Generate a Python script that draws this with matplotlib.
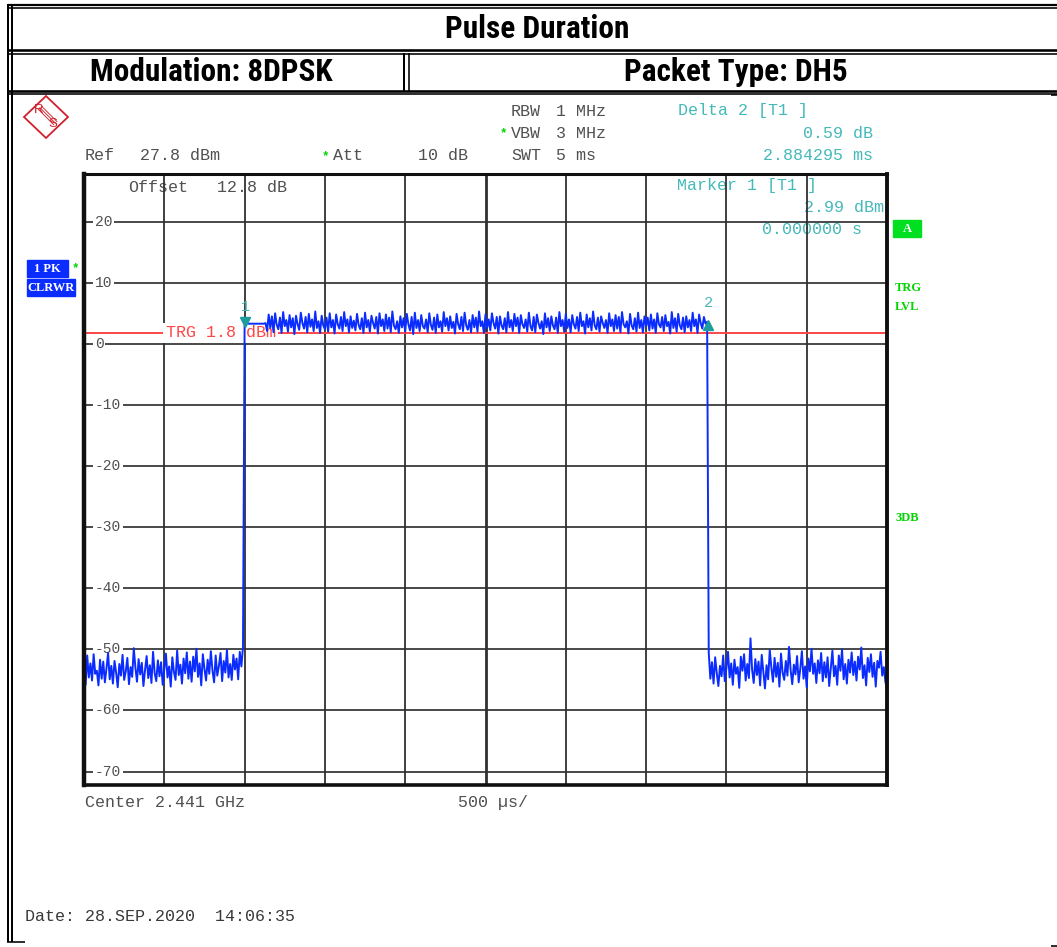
"""Pulse duration screenshot of an R&S spectrum analyzer (zero span, 8DPSK DH5)."""
import numpy as np
import matplotlib
matplotlib.use("Agg")
import matplotlib.pyplot as plt
from matplotlib import font_manager
from matplotlib.lines import Line2D
from matplotlib.patches import Rectangle, Polygon
from matplotlib.transforms import offset_copy

W, H = 1057, 947
MONO = "Liberation Mono"
GREY = "#505050"
CYAN = "#45b9b9"
GREEN = "#00d400"
BLUE = "#0a2cff"
RED = "#ff4646"
TEAL = "#1c9c9c"

# pick a narrow bold face for the report header if one is installed
_names = {f.name for f in font_manager.fontManager.ttflist}
HEAD, HEAD_SIZE = "Liberation Sans", 19
for _cand in ("Liberation Sans Narrow", "Roboto Condensed", "Open Sans Condensed",
              "Noto Sans Condensed", "DejaVu Sans Condensed"):
    if _cand in _names:
        HEAD, HEAD_SIZE = _cand, 22 if "Narrow" in _cand else 22.5
        break

# ---- sweep settings ----
ref_level = 27.8          # dBm, top of screen
span_db = 100.0
sweep_ms = 5.0
t_step = 0.01             # ms between sweep points
level_ticks = [20, 10, 0, -10, -20, -30, -40, -50, -60, -70]
time_grid = [0.5, 1.0, 1.5, 2.0, 2.5, 3.0, 3.5, 4.0, 4.5]
trg_level = 1.8
marker_t = [1.0, 1.0 + 2.884295]   # ms
marker_lvl = [2.99, 2.99 + 0.59]   # dBm

# ---- trace (dBm) ----
noise_pre = [
    -53.2, -55.8, -51.0, -54.6, -52.3, -55.1, -50.8, -54.0, -53.5, -55.9,
    -51.7, -54.8, -52.0, -55.4, -53.1, -50.6, -54.9, -52.7, -55.6, -51.9,
    -53.8, -56.2, -52.4, -54.3, -50.9, -55.0, -53.6, -51.4, -55.7, -52.9,
    -54.5, -49.8, -53.0, -55.3, -51.6, -54.1, -52.2, -56.0, -53.4, -51.1,
    -54.7, -52.6, -55.5, -50.4, -53.9, -55.2, -51.8, -54.4, -52.1, -55.8,
    -53.3, -50.7, -54.6, -52.8, -56.1, -51.3, -53.7, -55.0, -50.2, -54.2,
    -52.5, -55.6, -51.5, -53.9, -50.5, -54.8, -52.0, -55.3, -51.2, -53.6,
    -49.9, -54.5, -52.3, -55.9, -50.8, -53.2, -55.1, -51.7, -54.0, -50.3,
    -53.5, -55.4, -51.0, -54.3, -52.7, -50.6, -55.2, -51.9, -53.8, -50.1,
    -54.6, -52.4, -55.0, -50.9, -53.3, -51.5, -54.9, -50.4, -52.8, -49.6,
]
pulse = [
    3.0, 3.3, 3.3, 3.3, 3.3, 3.3, 3.3, 3.3, 3.3, 3.3, 3.3, 3.3, 3.3, 3.4, 2.1, 4.8, 2.6,
    4.5, 1.9, 5.0, 3.1, 2.4, 4.3, 1.8, 5.2, 2.9, 3.9, 2.0, 4.7, 2.7, 4.2, 1.6, 4.6, 3.2,
    2.3, 5.1, 3.4, 2.5, 4.4, 1.9, 4.9, 2.8, 4.0, 2.1, 5.3, 2.6, 3.7, 1.8, 4.6, 3.0, 2.4,
    4.3, 2.0, 5.0, 2.7, 3.9, 1.7, 4.8, 3.2, 2.5, 4.4, 2.1, 5.2, 2.9, 4.0, 1.9, 4.5, 2.6,
    3.8, 2.2, 4.9, 3.1, 2.4, 4.2, 1.8, 5.1, 2.7, 3.9, 2.0, 4.6, 3.4, 2.5, 4.4, 1.7, 5.0,
    2.9, 4.0, 2.1, 4.8, 2.5, 4.3, 1.9, 5.3, 3.0, 2.4, 3.7, 1.8, 4.5, 2.7, 4.2, 2.0, 4.9,
    3.2, 2.2, 4.4, 1.6, 5.1, 2.6, 3.9, 2.1, 4.7, 2.9, 2.5, 4.0, 1.9, 5.0, 3.1, 2.3, 4.3,
    1.8, 4.8, 2.7, 3.7, 2.0, 5.2, 2.9, 4.2, 2.2, 4.5, 2.6, 3.6, 1.7, 4.9, 3.2, 2.4, 4.4,
    2.1, 5.1, 3.0, 2.3, 3.9, 1.9, 4.7, 2.7, 4.3, 2.0, 5.3, 2.9, 3.7, 1.8, 4.8, 2.6, 4.0,
    2.2, 5.0, 3.4, 2.5, 4.4, 1.7, 4.5, 3.0, 2.4, 4.2, 1.9, 5.2, 2.7, 3.9, 2.1, 4.9, 2.9,
    4.3, 1.8, 4.7, 3.2, 2.6, 4.0, 2.0, 5.1, 2.9, 2.2, 4.4, 1.9, 4.8, 3.4, 2.5, 3.7, 1.6,
    5.0, 2.7, 4.2, 2.1, 4.5, 3.0, 2.4, 4.3, 1.8, 5.2, 2.9, 3.9, 2.0, 4.9, 2.6, 4.0, 1.9,
    4.7, 3.2, 2.5, 4.4, 2.1, 5.1, 2.9, 3.7, 1.7, 4.8, 2.7, 4.2, 2.2, 5.3, 3.0, 2.4, 4.3,
    2.0, 4.5, 3.4, 2.6, 3.9, 1.8, 5.0, 2.9, 4.0, 2.1, 4.7, 2.5, 4.4, 1.9, 5.2, 3.2, 2.7,
    3.7, 1.7, 4.9, 3.0, 2.4, 4.2, 2.0, 5.1, 2.6, 3.9, 1.9, 4.5, 2.9, 4.3, 2.2, 4.8, 2.5,
    4.0, 1.8, 5.0, 3.2, 2.7, 4.4, 2.1, 4.7, 2.9, 3.6, 1.7, 5.2, 2.6, 4.2, 2.0, 4.9, 3.0,
    2.4, 4.3, 1.9, 4.5, 2.7, 3.9, 2.1, 5.1, 2.9, 4.0, 1.8, 4.8, 3.4, 2.5, 4.4, 3.3, 3.6,
]
noise_post = [
    -50.5, -54.8, -52.1, -55.6, -51.3, -53.9, -56.0, -52.7, -54.4, -51.0, -55.2, -53.1, -50.4, -54.6, -52.3, -55.8,
    -51.7, -54.0, -52.9, -56.3, -51.2, -53.5, -50.8, -55.1, -52.4, -54.7, -48.2, -53.3, -55.5, -51.6, -54.2, -52.0,
    -55.9, -50.9, -53.7, -56.4, -52.6, -54.9, -50.1, -53.0, -55.3, -51.4, -54.5, -52.2, -56.1, -50.7, -53.8, -55.0,
    -51.9, -54.3, -49.6, -53.4, -55.7, -52.5, -54.1, -51.1, -55.4, -53.2, -50.3, -54.8, -52.8, -56.2, -51.5, -53.6,
    -49.9, -54.0, -52.3, -55.5, -51.8, -53.9, -50.6, -55.2, -52.1, -54.6, -51.3, -56.0, -53.1, -50.2, -54.4, -52.7,
    -55.8, -51.0, -53.5, -50.0, -54.9, -52.4, -55.6, -51.7, -53.8, -50.5, -54.2, -52.0, -55.1, -51.2, -53.3, -49.7,
    -54.7, -52.6, -55.9, -51.4, -53.7, -50.8, -54.5, -52.2, -56.1, -51.9, -53.0, -50.4, -54.3, -52.9, -55.3, -56.5,
]


def fx(x):
    return x / W


def fy(y):
    return 1 - y / H


def fline(fig, xs, ys, lw, color="black"):
    fig.add_artist(Line2D([fx(x) for x in xs], [fy(y) for y in ys],
                          transform=fig.transFigure, color=color, lw=lw * 0.72,
                          solid_capstyle="butt"))


def ftext(fig, x, y, s, color=GREY, size=12, ha="left", family=MONO, **kw):
    return fig.text(fx(x), fy(y), s, color=color, fontsize=size, ha=ha,
                    va="center", family=family, **kw)


fig = plt.figure(figsize=(W / 100, H / 100), dpi=100)
fig.patch.set_facecolor("white")

# ---- report frame ----
for y, lw in [(5, 2.2), (8.3, 1.6), (50.5, 2.6), (53.6, 1.6), (90.8, 2.6), (93.6, 1.6)]:
    fline(fig, [8, W], [y, y], lw)
fline(fig, [1051, W], [94.8, 94.8], 1.6)
fline(fig, [8, 8], [4, 942], 2.0)
fline(fig, [12, 12], [4, 942], 2.0)
fline(fig, [7, 25], [941.5, 941.5], 1.6)
fline(fig, [1051, W], [945.5, 945.5], 1.6)
fline(fig, [404, 404], [53, 91], 2.0)
fline(fig, [408.5, 408.5], [53, 91], 1.6)

for x, y, s in [(537, 29, "Pulse Duration"), (211, 72, "Modulation: 8DPSK"),
                (736, 72, "Packet Type: DH5")]:
    fig.text(fx(x), fy(y), s, family=HEAD, weight="bold", fontsize=HEAD_SIZE,
             ha="center", va="center")

# ---- R&S logo ----
cx, cy = 46, 117
fig.add_artist(Polygon([(fx(cx), fy(cy - 21)), (fx(cx + 22), fy(cy)),
                        (fx(cx), fy(cy + 21)), (fx(cx - 22), fy(cy))],
                       closed=True, fill=False, edgecolor="#d0202c", lw=1.3,
                       transform=fig.transFigure))
for k in (0.0, 1.6, 3.2):
    fline(fig, [cx - 8 + k, cx + 8 + k], [cy - 8 - k, cy + 8 - k], 0.9, "#d0202c")
ftext(fig, 39, 110, "R", color="#d0202c", size=9.5, ha="center", family="Liberation Sans")
ftext(fig, 53, 124, "S", color="#d0202c", size=9.5, ha="center", family="Liberation Sans")

# ---- header parameters ----
ftext(fig, 85, 156, "Ref")
ftext(fig, 140, 156, "27.8 dBm")
ftext(fig, 322, 156, "*", color=GREEN, size=9, weight="bold")
ftext(fig, 333, 156, "Att")
ftext(fig, 418, 156, "10 dB")
ftext(fig, 511, 111, "RBW")
ftext(fig, 556, 111, "1 MHz")
ftext(fig, 500, 133, "*", color=GREEN, size=9, weight="bold")
ftext(fig, 511, 133, "VBW")
ftext(fig, 556, 133, "3 MHz")
ftext(fig, 511, 155, "SWT")
ftext(fig, 556, 155, "5 ms")
ftext(fig, 678, 111, "Delta 2 [T1 ]", color=CYAN)
ftext(fig, 873, 133, "%.2f dB" % (marker_lvl[1] - marker_lvl[0]), color=CYAN, ha="right")
ftext(fig, 873, 155, "%.6f ms" % (marker_t[1] - marker_t[0]), color=CYAN, ha="right")
ftext(fig, 85, 802, "Center 2.441 GHz")
ftext(fig, 458, 802, "500 µs/")
ftext(fig, 25, 916, "Date: 28.SEP.2020  14:06:35", color="#383838")

# side annotations
fig.add_artist(Rectangle((fx(27), fy(277)), fx(41), 17 / H, color=BLUE,
                         transform=fig.transFigure))
fig.add_artist(Rectangle((fx(27), fy(296)), fx(48), 17 / H, color=BLUE,
                         transform=fig.transFigure))
ftext(fig, 47.5, 268.5, "1 PK", color="white", size=9, ha="center",
      family="Liberation Serif", weight="bold")
ftext(fig, 51, 288, "CLRWR", color="white", size=9, ha="center",
      family="Liberation Serif", weight="bold")
ftext(fig, 75, 268, "*", color=GREEN, size=9, ha="center", weight="bold")
fig.add_artist(Rectangle((fx(893), fy(237)), fx(28), 17 / H, color="#00e020",
                         transform=fig.transFigure))
ftext(fig, 907, 229, "A", color="white", size=9, ha="center",
      family="Liberation Serif", weight="bold")
for y, s in [(288, "TRG"), (307, "LVL"), (518, "3DB")]:
    ftext(fig, 895, y, s, color=GREEN, size=9, family="Liberation Serif", weight="bold")

# ---- screen ----
ax = fig.add_axes([fx(84), fy(785), (887 - 84) / W, (785 - 174) / H])
ax.set_xlim(0, sweep_ms)
ax.set_ylim(ref_level - span_db, ref_level)
ax.set_xticks([])
ax.set_yticks([])
for side, lw in [("left", 3.2), ("right", 2.8), ("top", 2.2), ("bottom", 2.6)]:
    ax.spines[side].set_linewidth(lw)
    ax.spines[side].set_color("#101010")
    ax.spines[side].set_zorder(8)

for v in level_ticks:
    ax.axhline(v, color="#202020", lw=1.15, zorder=2)
for t in time_grid:
    ax.axvline(t, color="#303030", lw=2.0 if t == sweep_ms / 2 else 1.3, zorder=2)

for v in level_ticks:
    ax.text(0.068, v, str(v), color=GREY, fontsize=10.5, family=MONO,
            ha="left", va="center", zorder=3,
            bbox=dict(boxstyle="square,pad=0.1", fc="white", ec="none"))

# texts drawn under the graticule
ptext = dict(transform=fig.transFigure, family=MONO, fontsize=12, va="center", zorder=1)
ax.text(fx(128), fy(187), "Offset", color=GREY, **ptext)
ax.text(fx(217), fy(187), "12.8 dB", color=GREY, **ptext)
ax.text(fx(677), fy(185), "Marker 1 [T1 ]", color=CYAN, **ptext)
ax.text(fx(884), fy(207), "%.2f dBm" % marker_lvl[0], color=CYAN, ha="right", **ptext)
ax.text(fx(862), fy(229), "0.000000 s", color=CYAN, ha="right", **ptext)

# trigger level
ax.axhline(trg_level, color=RED, lw=1.4, zorder=3.5)
ax.text(0.51, trg_level, "TRG %.1f dBm" % trg_level, color=RED, fontsize=12,
        family=MONO, ha="left", va="center", zorder=4,
        bbox=dict(boxstyle="square,pad=0.15", fc="white", ec="none"))

# trace
trace = np.array(noise_pre + pulse + noise_post)
t_axis = np.arange(len(trace)) * t_step
ax.plot(t_axis, trace, color=BLUE, lw=1.4, zorder=5)

# markers
up = offset_copy(ax.transData, fig=fig, x=0, y=3.5, units="dots")
dn = offset_copy(ax.transData, fig=fig, x=0, y=-3.5, units="dots")
lab = offset_copy(ax.transData, fig=fig, x=1, y=19, units="dots")
ax.plot(marker_t[0], marker_lvl[0], marker="v", ms=7, color=TEAL, transform=up, zorder=6)
ax.plot(marker_t[1], marker_lvl[1], marker="^", ms=7, color=TEAL, transform=dn, zorder=6)
for i, (t, v) in enumerate(zip(marker_t, marker_lvl)):
    ax.text(t, v, str(i + 1), color=CYAN, fontsize=11, family=MONO,
            ha="center", va="center", transform=lab, zorder=6)

fig.savefig("out.png", dpi=100, facecolor="white")
